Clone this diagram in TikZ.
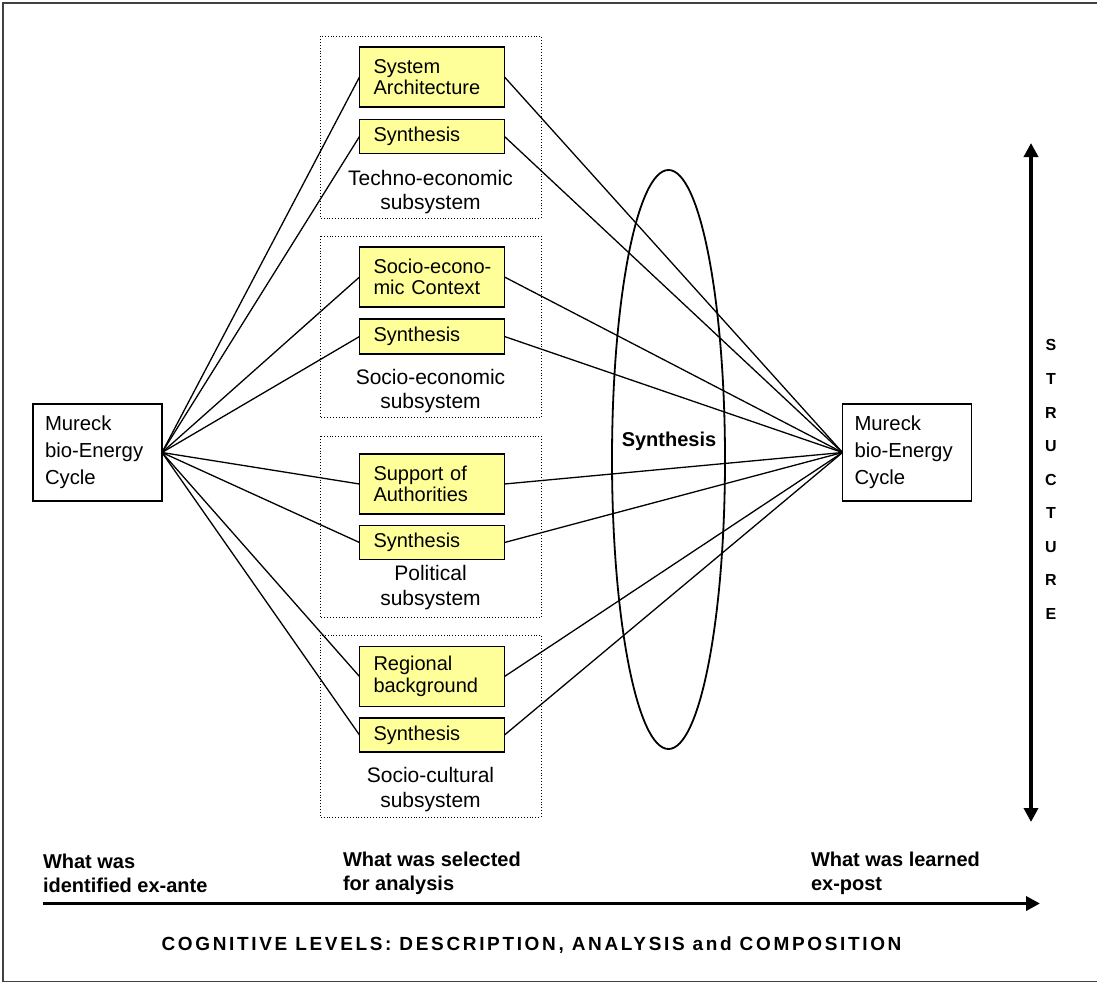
\documentclass[tikz,border=0pt]{standalone}
\usepackage{fontspec}
\setmainfont{Liberation Sans}
\usetikzlibrary{arrows.meta}
\definecolor{boxyellow}{HTML}{FFFF99}
\definecolor{framegrey}{HTML}{404040}
\begin{document}
\begin{tikzpicture}[x=1pt, y=-1pt,
  every node/.style={inner sep=0pt, outer sep=0pt},
  frameline/.style={draw=framegrey, line width=1.5pt},
  groupbox/.style={draw, dotted, line width=0.9pt},
  ybox/.style={draw, line width=1.8pt, fill=boxyellow, minimum width=145pt,
    text width=117pt, inner xsep=14pt, align=left,
    font=\fontsize{20pt}{21.6pt}\selectfont},
  cyclebox/.style={draw, line width=1.4pt, minimum width=129pt, minimum height=97pt,
    text width=105pt, inner xsep=12pt, align=left,
    font=\fontsize{20.3pt}{27pt}\selectfont},
  grouplabel/.style={align=center, font=\fontsize{21pt}{24.5pt}\selectfont},
  link/.style={line width=1.3pt},
  axis/.style={line width=3.5pt, -{Triangle[length=14pt,width=14pt]}},
  axislabel/.style={align=left, anchor=west, font=\bfseries\fontsize{20pt}{23.5pt}\selectfont},
  letter/.style={font=\bfseries\fontsize{16pt}{16pt}\selectfont}
]
\useasboundingbox (0,0) rectangle (1097,983);

% outer frame (right side runs off the page)
\draw[frameline] (3,3) rectangle (1099,981.5);

% dotted subsystem groups
\draw[groupbox] (320,36) rectangle (541,218);
\draw[groupbox] (320,236) rectangle (541,417.5);
\draw[groupbox] (320,436) rectangle (541,617.5);
\draw[groupbox] (320,635) rectangle (541,817);

% yellow analysis boxes
\node[ybox, minimum height=60pt] (sa)  at (432,77)    {System\\Architecture};
\node[ybox, minimum height=34pt] (s1)  at (432,136.5) {Synthesis};
\node[ybox, minimum height=60pt] (sec) at (432,277)   {\mbox{Socio-econo-}\\\mbox{mic Context}};
\node[ybox, minimum height=35pt] (s2)  at (432,336.5) {Synthesis};
\node[ybox, minimum height=60pt] (soa) at (432,484)   {Support of\\Authorities};
\node[ybox, minimum height=34pt] (s3)  at (432,542.5) {Synthesis};
\node[ybox, minimum height=60pt] (rb)  at (432,676.5) {Regional\\background};
\node[ybox, minimum height=34pt] (s4)  at (432,735)   {Synthesis};

% subsystem captions
\node[grouplabel] (l1) at (430.5,192)   {Techno-economic\\subsystem};
\node[grouplabel] (l2) at (430.5,391)   {Socio-economic\\subsystem};
\node[grouplabel] (l3) at (430.5,587.5) {Political\\subsystem};
\node[grouplabel] (l4) at (430.5,789.5) {Socio-cultural\\subsystem};

% the cycle, before and after
\node[cyclebox] (ml) at (97.5,452.5) {Mureck\\bio-Energy\\Cycle};
\node[cyclebox] (mr) at (907,452.5)  {Mureck\\bio-Energy\\Cycle};

% synthesis ellipse
\draw[line width=1.8pt] (668.5,459.5) ellipse [x radius=56.5, y radius=289.5];
\node[font=\bfseries\fontsize{20pt}{21pt}\selectfont] (syn) at (669,441) {Synthesis};

% connectors
\foreach \b in {sa,s1,sec,s2,soa,s3,rb,s4}{
  \draw[link] (ml.east) -- (\b.west);
  \draw[link] (\b.east) -- (mr.west);
}

% structure axis
\coordinate (vtop) at (1031,143);
\coordinate (vbot) at (1031,822);
\draw[line width=3.5pt, {Triangle[length=14pt,width=14pt]}-{Triangle[length=14pt,width=14pt]}] (vtop) -- (vbot);
\foreach \c/\y [count=\i] in {S/345,T/379,R/413,U/446,C/480,T/513,U/547,R/580,E/614}{
  \node[letter] (st\i) at (1051,\y) {\c};
}

% cognitive axis
\coordinate (hstart) at (43,903.5);
\coordinate (hend) at (1040,903.5);
\draw[axis] (hstart) -- (hend);
\node[axislabel] (a1) at (43,873.5)  {What was\\identified ex-ante};
\node[axislabel] (a2) at (343,873.5) {What was selected\\for analysis};
\node[axislabel] (a3) at (811,873.5) {What was learned\\ex-post};
\node[font=\bfseries\fontsize{19pt}{20pt}\selectfont\addfontfeatures{LetterSpace=14}] (cog) at (531.5,945)
  {COGNITIVE LEVELS: DESCRIPTION, ANALYSIS and COMPOSITION};
\end{tikzpicture}
\end{document}
